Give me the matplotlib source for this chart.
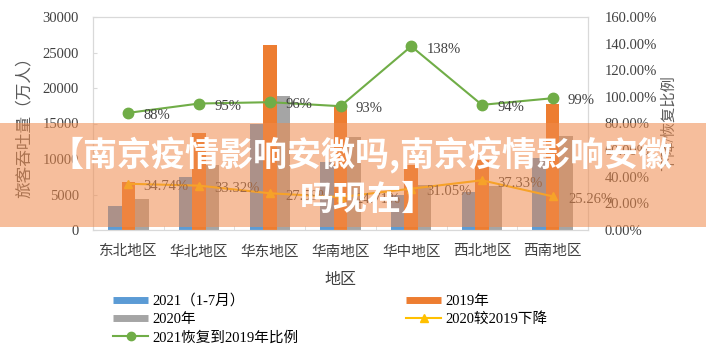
import matplotlib
matplotlib.use("Agg")
import matplotlib.pyplot as plt
from matplotlib.lines import Line2D
from matplotlib.patches import Rectangle
import numpy as np

plt.rcParams['font.family'] = ['Liberation Serif', 'Noto Sans CJK SC', 'DejaVu Sans']

categories = ['东北地区', '华北地区', '华东地区', '华南地区', '华中地区', '西北地区', '西南地区']
v2021 = [3400, 7500, 15000, 9600, 5000, 5300, 10100]
v2019 = [6800, 13700, 26100, 17400, 9200, 9900, 17800]
v2020 = [4400, 9150, 18900, 13100, 6340, 6200, 13300]
drop_pct = [34.74, 33.32, 27.59, 24.71, 31.05, 37.33, 25.26]
recover_pct = [88, 95, 96, 93, 138, 94, 99]
left_ticks = [0, 5000, 10000, 15000, 20000, 25000, 30000]
right_ticks = [0, 20, 40, 60, 80, 100, 120, 140, 160]
banner_line1 = '【南京疫情影响安徽吗,南京疫情影响安徽'
banner_line2 = '吗现在】'

C_BLUE = '#5B9BD5'
C_ORANGE = '#ED7D31'
C_GRAY = '#A5A5A5'
C_YELLOW = '#FFC000'
C_GREEN = '#70AD47'
C_SPINE = '#D9D9D9'
C_TICK = '#404040'

W, H = 706, 352
fig = plt.figure(figsize=(W / 100, H / 100), dpi=100)
ax = fig.add_axes([93 / W, 1 - 230 / H, (588 - 93) / W, (230 - 17) / H])
ax2 = ax.twinx()

x = np.arange(len(categories))
bw = 0.19
ax.bar(x - bw, v2021, bw, color=C_BLUE, zorder=2)
ax.bar(x, v2019, bw, color=C_ORANGE, zorder=2)
ax.bar(x + bw, v2020, bw, color=C_GRAY, zorder=2)

ax.set_xlim(-0.5, len(categories) - 0.5)
ax.set_ylim(0, 30000)
ax.set_yticks(left_ticks)
ax.set_yticklabels([str(t) for t in left_ticks], fontsize=10.5, color=C_TICK)
ax.set_xticks(x)
ax.set_xticklabels(categories, fontsize=10.5, color=C_TICK)
ax.set_xticks(np.arange(-0.5, len(categories), 1.0), minor=True)
ax.tick_params(axis='x', which='major', length=0, pad=11)
ax.tick_params(axis='x', which='minor', length=3, direction='in', color=C_SPINE)
ax.tick_params(axis='y', length=3, direction='in', color=C_SPINE, pad=10)
for s in ax.spines.values():
    s.set_color(C_SPINE)
for s in ax2.spines.values():
    s.set_color(C_SPINE)
ax.set_xlabel('地区', fontsize=11.5, color=C_TICK, labelpad=10)
ax.set_ylabel('旅客吞吐量（万人）', fontsize=12, color='#595959')
ax.yaxis.set_label_coords((25 - 93) / 495, 0.5)
ax.yaxis.label.set_verticalalignment('center')

ax2.set_ylim(0, 160)
ax2.set_yticks(right_ticks)
ax2.set_yticklabels([f'{t:.2f}%' for t in right_ticks], fontsize=10.5, color=C_TICK)
ax2.tick_params(axis='y', length=0, pad=12)
ax2.set_ylabel('下降/恢复比例', fontsize=11, color='#595959', labelpad=3)

ax2.plot(x, drop_pct, color=C_YELLOW, lw=1.5, marker='^', ms=6, zorder=3)
ax2.plot(x, recover_pct, color=C_GREEN, lw=1.5, marker='o', ms=7.5, zorder=3)
for xi, v in zip(x, drop_pct):
    ax2.annotate(f'{v:.2f}%', (xi, v), xytext=(11, -2), textcoords='offset points',
                 ha='left', va='center', fontsize=10.5, color=C_TICK, zorder=4)
for xi, v in zip(x, recover_pct):
    ax2.annotate(f'{v}%', (xi, v), xytext=(11, -2), textcoords='offset points',
                 ha='left', va='center', fontsize=10.5, color=C_TICK, zorder=4)

handles = [
    Line2D([], [], color=C_BLUE, lw=5, solid_capstyle='butt'),
    Line2D([], [], color=C_GRAY, lw=5, solid_capstyle='butt'),
    Line2D([], [], color=C_GREEN, lw=1.5, marker='o', ms=6),
    Line2D([], [], color=C_ORANGE, lw=5, solid_capstyle='butt'),
    Line2D([], [], color=C_YELLOW, lw=1.5, marker='^', ms=6),
]
labels = ['2021（1-7月）', '2020年', '2021恢复到2019年比例', '2019年', '2020较2019下降']
fig.legend(handles, labels, ncol=2, loc='upper left', bbox_to_anchor=(113 / W, 1 - 294 / H),
           frameon=False, fontsize=10.5, handlelength=2.4, handletextpad=0.3,
           columnspacing=7.4, labelspacing=0.33, borderaxespad=0, borderpad=0)

# banner overlay
fig.patches.append(Rectangle((0, 1 - 227 / H), 1, (227 - 123) / H, transform=fig.transFigure,
                             facecolor='#F08A4B', alpha=0.55, edgecolor='none', zorder=10))
fig.text(361 / W, 1 - 155 / H, banner_line1, ha='center', va='center', fontsize=24.5,
         color='white', fontweight='bold', family=['Noto Sans CJK SC', 'DejaVu Sans'], zorder=11)
fig.text(368 / W, 1 - 199 / H, banner_line2, ha='center', va='center', fontsize=24.5,
         color='white', fontweight='bold', family=['Noto Sans CJK SC', 'DejaVu Sans'], zorder=11)

fig.savefig('out.png', dpi=100)
